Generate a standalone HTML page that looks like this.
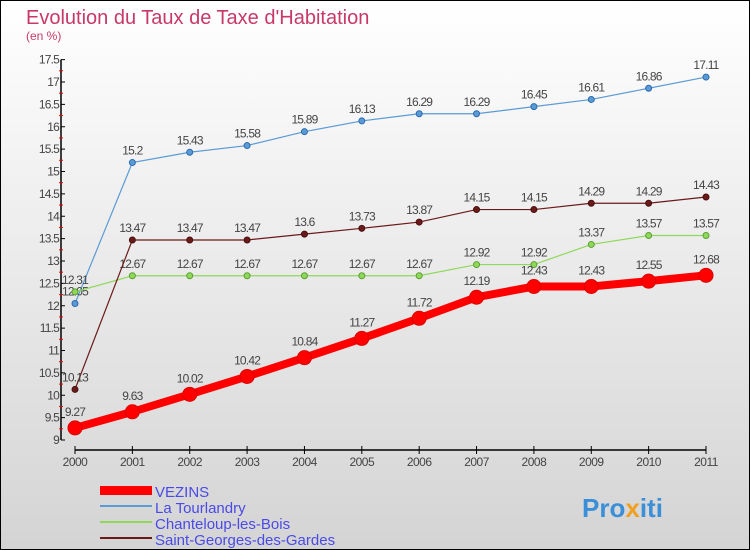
<!DOCTYPE html>
<html><head><meta charset="utf-8"><style>
body{margin:0}
#c{width:750px;height:550px;position:relative;box-sizing:border-box;border:1px solid #000;background:linear-gradient(#ffffff,#d4d4d4);font-family:"Liberation Sans",sans-serif;overflow:hidden}
</style></head><body>
<div id="c">
<svg id="s" width="750" height="550" style="position:absolute;left:-1px;top:-1px">
<text x="26" y="24" font-size="20" fill="#c8386a">Evolution du Taux de Taxe d'Habitation</text>
<text x="26" y="40" font-size="12" fill="#c8386a">(en %)</text>
<g id="axes"></g><g id="series"></g>
<g>
<rect x="100" y="486" width="52" height="9" fill="#f00"/>
<text x="155" y="497" font-size="15" fill="#4a4ae8">VEZINS</text>
<rect x="100" y="505" width="52" height="2" fill="#5b9bd5"/>
<text x="155" y="513" font-size="15" fill="#4a4ae8">La Tourlandry</text>
<rect x="100" y="521" width="52" height="2" fill="#8fd85a"/>
<text x="155" y="529" font-size="15" fill="#4a4ae8">Chanteloup-les-Bois</text>
<rect x="100" y="537" width="52" height="2" fill="#6b1a1a"/>
<text x="155" y="545" font-size="15" fill="#4a4ae8">Saint-Georges-des-Gardes</text>
</g>
<text x="582" y="517" font-size="26" font-weight="bold" fill="#3a8fd8">Pro<tspan fill="#f0a020">x</tspan>iti</text>
</svg></div>
<script>
const years=["2000","2001","2002","2003","2004","2005","2006","2007","2008","2009","2010","2011"];
const yTicks=[9,9.5,10,10.5,11,11.5,12,12.5,13,13.5,14,14.5,15,15.5,16,16.5,17,17.5];
const vezins=[9.27,9.63,10.02,10.42,10.84,11.27,11.72,12.19,12.43,12.43,12.55,12.68];
const tourlandry=[12.05,15.2,15.43,15.58,15.89,16.13,16.29,16.29,16.45,16.61,16.86,17.11];
const chanteloup=[12.31,12.67,12.67,12.67,12.67,12.67,12.67,12.92,12.92,13.37,13.57,13.57];
const stgeorges=[10.13,13.47,13.47,13.47,13.6,13.73,13.87,14.15,14.15,14.29,14.29,14.43];
const NS="http://www.w3.org/2000/svg";
const X=i=>75+i*(706-75)/(years.length-1);
const Y=v=>440-(v-9)*44.75;
function mk(tag,at,parent){const e=document.createElementNS(NS,tag);for(const k in at)e.setAttribute(k,at[k]);parent.appendChild(e);return e;}
const ax=document.getElementById('axes'),se=document.getElementById('series');
let l=mk('line',{x1:61,y1:Y(17.5),x2:61,y2:Y(9),stroke:'#000','stroke-width':1.5},ax);


l=mk('line',{x1:75,y1:450,x2:706,y2:450,stroke:'#000','stroke-width':1.5},ax);


yTicks.forEach((v,i)=>{
 mk('line',{x1:61,y1:Y(v),x2:65,y2:Y(v),stroke:'#000'},ax);
 if(i<yTicks.length-1)mk('line',{x1:59,y1:Y(v+0.25),x2:63,y2:Y(v+0.25),stroke:'#e00'},ax);
 const t=mk('text',{x:59,y:Y(v)+4,'font-size':12,'text-anchor':'end',fill:'#444','letter-spacing':'-0.8'},ax);
 t.textContent=String(v);
 
 
});
years.forEach((y,i)=>{
 mk('line',{x1:X(i),y1:446,x2:X(i),y2:454,stroke:'#000'},ax);
 const t=mk('text',{x:X(i),y:466,'font-size':12,'text-anchor':'middle',fill:'#444','letter-spacing':'-0.5'},ax);
 t.textContent=y;
 
 
});
function series(vals,color,w,r,name,dark){
 const g=mk('g',{},se);
 
 
 mk('polyline',{points:vals.map((v,i)=>X(i)+','+Y(v)).join(' '),fill:'none',stroke:color,'stroke-width':w},g);
 vals.forEach((v,i)=>{
  const c=mk('circle',{cx:X(i),cy:Y(v),r:r,fill:color,stroke:dark,'stroke-width':1},g);
  
  
  const t=mk('text',{x:X(i),y:Y(v)-(r+5),'font-size':12,'text-anchor':'middle',fill:'#444','letter-spacing':'-0.8'},g);
  t.textContent=String(v);
  
  
 });
}
series(tourlandry,'#5b9bd5',1.2,3,'la-tourlandry','#2a6ab0');
series(chanteloup,'#8fd85a',1.2,3,'chanteloup','#5aa030');
series(stgeorges,'#6b1a1a',1.2,3,'saint-georges','#4a0f0f');
series(vezins,'#f00',8,7,'vezins','#d00');
</script>
</body></html>
